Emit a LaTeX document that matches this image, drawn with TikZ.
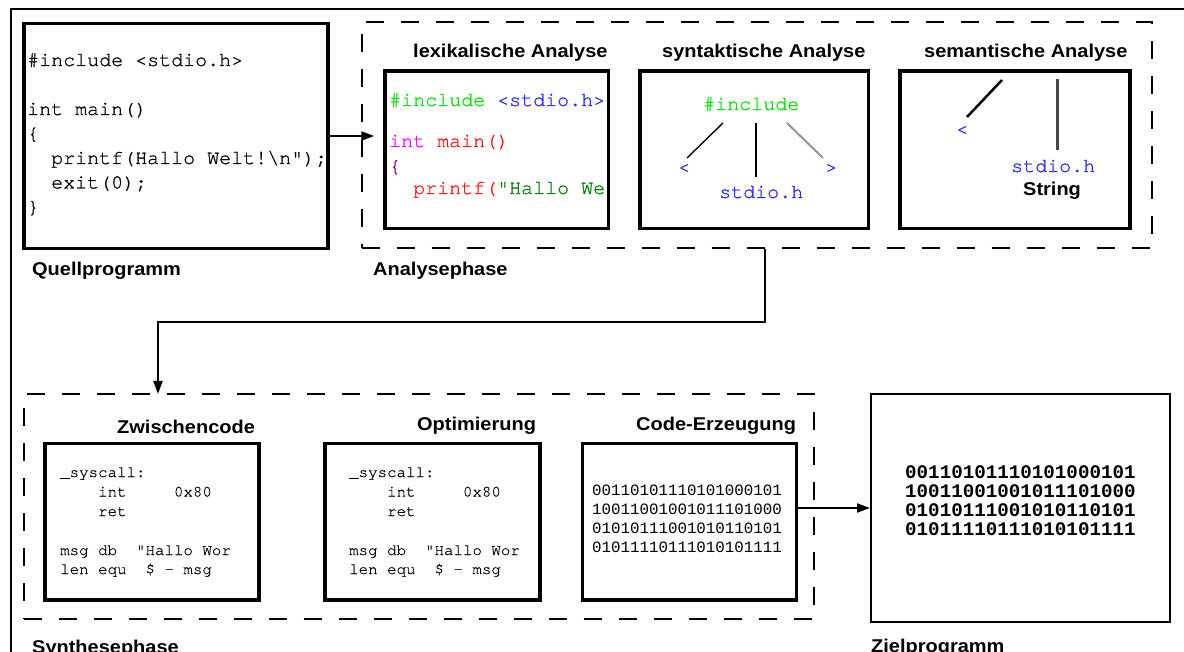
\documentclass[tikz,border=0pt]{standalone}
\usepackage{fontspec}
\setmainfont{Liberation Sans}
\setmonofont{TeX Gyre Cursor}
\newfontfamily\binfont{Liberation Mono}
\newfontfamily\headfont{Liberation Sans}[FakeStretch=1.08]
\usetikzlibrary{arrows.meta}

\definecolor{kwgreen}{RGB}{0,225,0}
\definecolor{strgreen}{RGB}{0,128,0}
\definecolor{hdrblue}{RGB}{40,40,255}
\definecolor{kwmagenta}{RGB}{255,0,255}
\definecolor{fnred}{RGB}{255,20,20}
\definecolor{brpurple}{RGB}{128,0,128}
\definecolor{edgegray}{RGB}{150,150,150}
\definecolor{darkedge}{RGB}{70,70,70}

\tikzset{
  box/.style={draw, line width=3.5pt, inner sep=0pt},
  thinbox/.style={draw, line width=2pt, inner sep=0pt},
  phase/.style={draw, dash pattern=on 18pt off 17pt, line width=2pt, inner sep=0pt},
  head/.style={anchor=base west, inner sep=0pt, font=\headfont\bfseries\fontsize{18.5}{22}\selectfont},
  code/.style={anchor=base west, inner sep=0pt, font=\ttfamily\addfontfeatures{FakeBold=0.8}\fontsize{20}{24}\selectfont},
  asm/.style={anchor=base west, inner sep=0pt, font=\ttfamily\addfontfeatures{FakeBold=0.3}\fontsize{15.8}{19}\selectfont},
  bits/.style={anchor=base west, inner sep=0pt, font=\binfont\fontsize{15.8}{19}\selectfont},
  bin/.style={anchor=base west, inner sep=0pt, font=\binfont\bfseries\fontsize{19.2}{22}\selectfont},
  conn/.style={line width=2pt},
  arr/.style={conn, -{Triangle[length=13pt,width=9pt]}},
  tree/.style={line width=1.4pt},
}

\begin{document}
\begin{tikzpicture}[x=1pt, y=-1pt]
\useasboundingbox (0,0) rectangle (1184,652);
\fill[white] (0,0) rectangle (1184,652);

% outer frame
\draw[line width=2pt] (11,652) -- (11,9.5) -- (1184,9.5);

% ---------------- source program ----------------
\node[box, minimum width=304, minimum height=225] (quell) at (176,136) {};
\node[code] (q1) at (27,66) {\#include <stdio.h>};
\node[code] (q2) at (27,115) {int main()};
\node[code] (q3) at (27,139.5) {\{};
\node[code] (q4) at (27,164) {~~printf(Hallo Welt!\textbackslash n");};
\node[code] (q5) at (27,188.5) {~~exit(0);};
\node[code] (q6) at (27,213) {\}};
\node[head] (quelllbl) at (32,276) {Quellprogramm};

% ---------------- analysis phase ----------------
\node[phase, minimum width=790.5, minimum height=226.5] (ana) at (756.75,135.25) {};
\node[head] (analbl) at (373,276) {Analysephase};

% lexical analysis
\node[head] (lexlbl) at (413,58) {lexikalische Analyse};
\node[box, minimum width=223.5, minimum height=157.5] (lex) at (496.75,149.75) {};
\begin{scope}
  \clip (385,71) rectangle (607,228);
  \node[code] (l1) at (389,106) {\textcolor{kwgreen}{\#include} \textcolor{hdrblue}{<stdio.h>}};
  \node[code] (l2) at (389,147) {\textcolor{kwmagenta}{int} \textcolor{fnred}{main()}};
  \node[code] (l3) at (389,172) {\textcolor{brpurple}{\{}};
  \node[code] (l4) at (389,194) {~~\textcolor{fnred}{printf(}\textcolor{strgreen}{"Hallo Welt!\textbackslash n");}};
\end{scope}

% syntactic analysis
\node[head] (synlbl) at (662,58) {syntaktische Analyse};
\node[box, minimum width=228.5, minimum height=157.5] (syn) at (754.25,149.75) {};
\node[code, text=kwgreen] (sinc) at (703,110) {\#include};
\node[code, text=hdrblue] (slt) at (678,173) {<};
\node[code, text=hdrblue] (sgt) at (825,173) {>};
\node[code, text=hdrblue] (shdr) at (719,198) {stdio.h};
\coordinate (sa1) at (723,123); \coordinate (sa2) at (687,158);
\coordinate (sb1) at (756,123); \coordinate (sb2) at (756,177);
\coordinate (sc1) at (787,123); \coordinate (sc2) at (823,158);
\draw[tree] (sa1) -- (sa2);
\draw[tree] (sb1) -- (sb2);
\draw[tree, line width=2pt, edgegray] (sc1) -- (sc2);

% semantic analysis
\node[head] (semlbl) at (924,58) {semantische Analyse};
\node[box, minimum width=230, minimum height=157.5] (sem) at (1015,149.75) {};
\node[code, text=hdrblue] (mlt) at (956,135) {<};
\node[code, text=hdrblue] (mhdr) at (1011,172) {stdio.h};
\node[head] (mstr) at (1023,196) {String};
\coordinate (ma1) at (1002,80); \coordinate (ma2) at (967,117);
\coordinate (mb1) at (1057,79); \coordinate (mb2) at (1057,150);
\draw[line width=2.5pt] (ma1) -- (ma2);
\draw[line width=3pt, darkedge] (mb1) -- (mb2);

% ---------------- synthesis phase ----------------
\node[phase, minimum width=790.5, minimum height=225] (synph) at (418.75,506.5) {};
\node[head] (synphlbl) at (32,653) {Synthesephase};

% intermediate code
\node[head] (zwlbl) at (117,433) {Zwischencode};
\node[box, minimum width=214, minimum height=156.5] (zw) at (152,521.75) {};
\node[asm] (z1) at (60,477) {\_syscall:};
\node[asm] (z2) at (60,496.5) {~~~~int~~~~~0x80};
\node[asm] (z3) at (60,516) {~~~~ret};
\node[asm] (z4) at (60,555) {msg~db~~"Hallo~Wor};
\node[asm] (z5) at (60,574) {len~equ~~\$~-~msg};

% optimisation
\node[head] (optlbl) at (417,430) {Optimierung};
\node[box, minimum width=215, minimum height=156.5] (opt) at (432.5,521.75) {};
\node[asm] (o1) at (349,477) {\_syscall:};
\node[asm] (o2) at (349,496.5) {~~~~int~~~~~0x80};
\node[asm] (o3) at (349,516) {~~~~ret};
\node[asm] (o4) at (349,555) {msg~db~~"Hallo~Wor};
\node[asm] (o5) at (349,574) {len~equ~~\$~-~msg};

% code generation
\node[head] (cglbl) at (636,431) {Code-Erzeugung};
\node[box, minimum width=214, minimum height=156.5] (cg) at (689.5,521.75) {};
\node[bits] (c1) at (592,495) {00110101110101000101};
\node[bits] (c2) at (592,514) {10011001001011101000};
\node[bits] (c3) at (592,533) {01010111001010110101};
\node[bits] (c4) at (592,552) {01011110111010101111};

% ---------------- target program ----------------
\node[thinbox, minimum width=298.5, minimum height=228] (ziel) at (1020.25,508) {};
\node[bin] (t1) at (905,478) {00110101110101000101};
\node[bin] (t2) at (905,497) {10011001001011101000};
\node[bin] (t3) at (905,516) {01010111001010110101};
\node[bin] (t4) at (905,535) {01011110111010101111};
\node[head] (ziellbl) at (871,652) {Zielprogramm};

% ---------------- connectors ----------------
\draw[arr, shorten >=9pt] (quell.east) -- (quell.east -| lex.west);
\coordinate (bend) at (765,322);
\coordinate (entry) at (158,394);
\draw[arr] (ana.south -| bend) -- (bend) -| (entry);
\draw[arr] (ziel.west -| cg.east) -- (ziel.west);
\end{tikzpicture}
\end{document}
